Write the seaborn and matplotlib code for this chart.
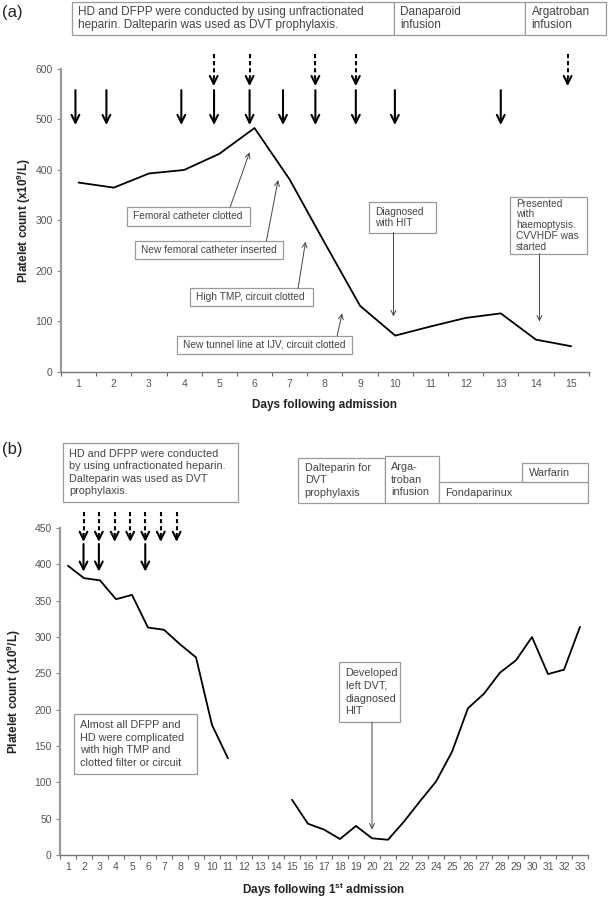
import numpy as np
import pandas as pd
import seaborn as sns
import matplotlib.pyplot as plt
from matplotlib.patches import Rectangle
from matplotlib.ticker import FixedLocator

# ---- panel (a): first admission course
days_a = list(range(1, 16))
count_a = [375, 365, 393, 400, 432, 483, 381, 255, 131, 72, 90, 107, 116, 64, 51]
solid_a = [0.91, 1.79, 3.92, 4.85, 5.86, 6.81, 7.73, 8.88, 9.99, 13.0]
dashed_a = [4.84, 5.86, 7.73, 8.88, 14.9]

# ---- panel (b): following 1st admission (no counts on days 12-14)
days_b = list(range(1, 12)) + list(range(15, 34))
count_b = [398, 381, 378, 352, 358, 313, 310, 290, 272, 179, 133,
           76, 43, 35, 22, 40, 23, 21, 46, 74, 101, 142, 202, 222, 251,
           268, 300, 249, 255, 314]
segment_b = [1] * 11 + [2] * 19
solid_b = [1.97, 2.93, 5.83]
dashed_b = [1.97, 2.93, 3.92, 4.89, 5.83, 6.80, 7.79]

TXT = '#444444'
TICK = '#555555'

sns.set_theme(style="ticks")
plt.rcParams['font.family'] = ['Liberation Sans', 'DejaVu Sans']
plt.rcParams['mathtext.default'] = 'regular'


def boxed(ax, x0, x1, y0, y1, text, size, ls=1.3, dx=4.5):
    ax.add_patch(Rectangle((x0, y0), x1 - x0, y1 - y0, fc='white', ec='#9a9a9a',
                           lw=0.9, clip_on=False, zorder=3))
    ax.annotate(text, xy=(x0, (y0 + y1) / 2), xytext=(dx, 0), textcoords='offset points',
                ha='left', va='center', fontsize=size, color=TXT, linespacing=ls,
                annotation_clip=False, zorder=4)


def pointer(ax, tail, tip):
    ax.annotate('', xy=tip, xytext=tail, annotation_clip=False, zorder=4,
                arrowprops=dict(arrowstyle='->,head_length=0.4,head_width=0.2',
                                color='#444444', lw=0.7, shrinkA=0, shrinkB=0,
                                mutation_scale=9))


def drop(ax, x, y0, y1, head, dashed=False):
    props = dict(arrowstyle='->,head_length=0.4,head_width=0.2', color='black',
                 lw=1.5, shrinkA=0, shrinkB=0, mutation_scale=14)
    if dashed:
        ax.plot([x, x], [y0, y1 + head], color='black', lw=1.5, ls=(0, (2.0, 1.4)),
                clip_on=False, solid_capstyle='butt')
        ax.annotate('', xy=(x, y1), xytext=(x, y1 + head), arrowprops=props,
                    annotation_clip=False)
    else:
        ax.annotate('', xy=(x, y1), xytext=(x, y0), arrowprops=props,
                    annotation_clip=False)


def style_axes(ax, ndays, ymax, ystep):
    ax.set_xlim(0.5, ndays + 0.5)
    ax.set_ylim(0, ymax)
    ax.set_xticks(range(1, ndays + 1))
    ax.xaxis.set_minor_locator(FixedLocator(np.arange(0.5, ndays + 1, 1)))
    ax.set_yticks(range(0, ymax + 1, ystep))
    ax.tick_params(axis='x', which='major', length=0, pad=5, labelsize=7.5, labelcolor=TICK)
    ax.tick_params(axis='x', which='minor', length=3, width=0.8, color='#666666',
                   direction='out')
    ax.tick_params(axis='y', length=3, width=0.8, color='#888888', pad=3,
                   labelsize=7.5, labelcolor=TICK)
    for s in ['top', 'right']:
        ax.spines[s].set_visible(False)
    ax.spines['left'].set_color('#9a9a9a')
    ax.spines['left'].set_linewidth(1.6)
    ax.spines['bottom'].set_color('#777777')
    ax.spines['bottom'].set_linewidth(1.0)
    ax.set_ylabel('Platelet count (x10$^9$/L)', fontsize=8.5, fontweight='bold',
                  color='#222222')


fig = plt.figure(figsize=(6.09, 9.0), dpi=100)
ax_a = fig.add_axes([0.1002, 0.5867, 0.8665, 0.3367])
ax_b = fig.add_axes([0.0985, 0.05, 0.867, 0.3633])

# ---------------- panel (a)
sns.lineplot(x=days_a, y=count_a, color='black', lw=1.3, ax=ax_a)
style_axes(ax_a, 15, 600, 100)
ax_a.yaxis.set_label_coords(-0.054, 0.5)
ax_a.set_xlabel('Days following admission', fontsize=8.5, fontweight='bold', color='#222222')
ax_a.xaxis.set_label_coords(0.5, -0.089)

for x in solid_a:
    drop(ax_a, x, 558, 489, 16)
for x in dashed_a:
    drop(ax_a, x, 630, 566, 16, dashed=True)

boxed(ax_a, 0.8, 9.97, 667, 733,
      'HD and DFPP were conducted by using unfractionated\n'
      'heparin. Dalteparin was used as DVT prophylaxis.', 8.5, ls=1.15)
boxed(ax_a, 9.97, 13.7, 667, 733, 'Danaparoid\ninfusion', 8.5, ls=1.15)
boxed(ax_a, 13.7, 15.99, 667, 733, 'Argatroban\ninfusion', 8.5, ls=1.15)

boxed(ax_a, 2.38, 5.87, 289, 327, 'Femoral catheter clotted', 7.3)
pointer(ax_a, (5.31, 327), (5.86, 435))
boxed(ax_a, 2.6, 6.8, 224, 260, 'New femoral catheter inserted', 7.3)
pointer(ax_a, (6.34, 260), (6.67, 380))
boxed(ax_a, 4.17, 7.66, 131, 166, 'High TMP, circuit clotted', 7.3)
pointer(ax_a, (7.24, 166), (7.45, 258))
boxed(ax_a, 3.79, 8.76, 36, 72, 'New tunnel line at IJV, circuit clotted', 7.3)
pointer(ax_a, (8.35, 72), (8.49, 116))
boxed(ax_a, 9.25, 11.15, 276, 337, 'Diagnosed\nwith HIT', 7.3, ls=1.1)
pointer(ax_a, (9.95, 276), (9.95, 110))
boxed(ax_a, 13.25, 15.45, 234, 347, 'Presented\nwith\nhaemoptysis.\nCVVHDF was\nstarted', 7.3, ls=1.1)
pointer(ax_a, (14.1, 234), (14.1, 100))

# ---------------- panel (b)
df_b = pd.DataFrame({'day': days_b, 'count': count_b, 'segment': segment_b})
sns.lineplot(data=df_b, x='day', y='count', units='segment', estimator=None,
             color='black', lw=1.3, ax=ax_b)
style_axes(ax_b, 33, 450, 50)
ax_b.yaxis.set_label_coords(-0.0705, 0.5)
ax_b.set_xlabel('Days following 1$^{st}$ admission', fontsize=8.5, fontweight='bold',
                color='#222222')
ax_b.xaxis.set_label_coords(0.5, -0.08)

for x in solid_b:
    drop(ax_b, x, 428, 390, 11)
for x in dashed_b:
    drop(ax_b, x, 472, 431, 11, dashed=True)

boxed(ax_b, 0.69, 11.63, 486, 567,
      'HD and DFPP were conducted\nby using unfractionated heparin.\n'
      'Dalteparin was used as DVT\nprophylaxis.', 7.8, ls=1.32)
boxed(ax_b, 15.4, 20.8, 484, 547, 'Dalteparin for\nDVT\nprophylaxis', 7.8, ls=1.32)
boxed(ax_b, 20.8, 24.2, 484, 549, 'Arga-\ntroban\ninfusion', 7.8, ls=1.32)
boxed(ax_b, 24.2, 33.5, 484, 513, 'Fondaparinux', 7.8)
boxed(ax_b, 29.4, 33.5, 513, 539, 'Warfarin', 7.8)
boxed(ax_b, 1.36, 9.04, 112, 194,
      'Almost all DFPP and\nHD were complicated\nwith high TMP and\nclotted filter or circuit',
      7.8, ls=1.32)
boxed(ax_b, 17.96, 21.77, 183, 265, 'Developed\nleft DVT,\ndiagnosed\nHIT', 7.8, ls=1.32)
pointer(ax_b, (20.0, 183), (20.0, 35))

fig.text(0.003, 0.9856, '(a)', fontsize=12, ha='left', va='center', color='#222222')
fig.text(0.003, 0.501, '(b)', fontsize=12, ha='left', va='center', color='#222222')

fig.savefig('out.png', dpi=100, facecolor='white')
